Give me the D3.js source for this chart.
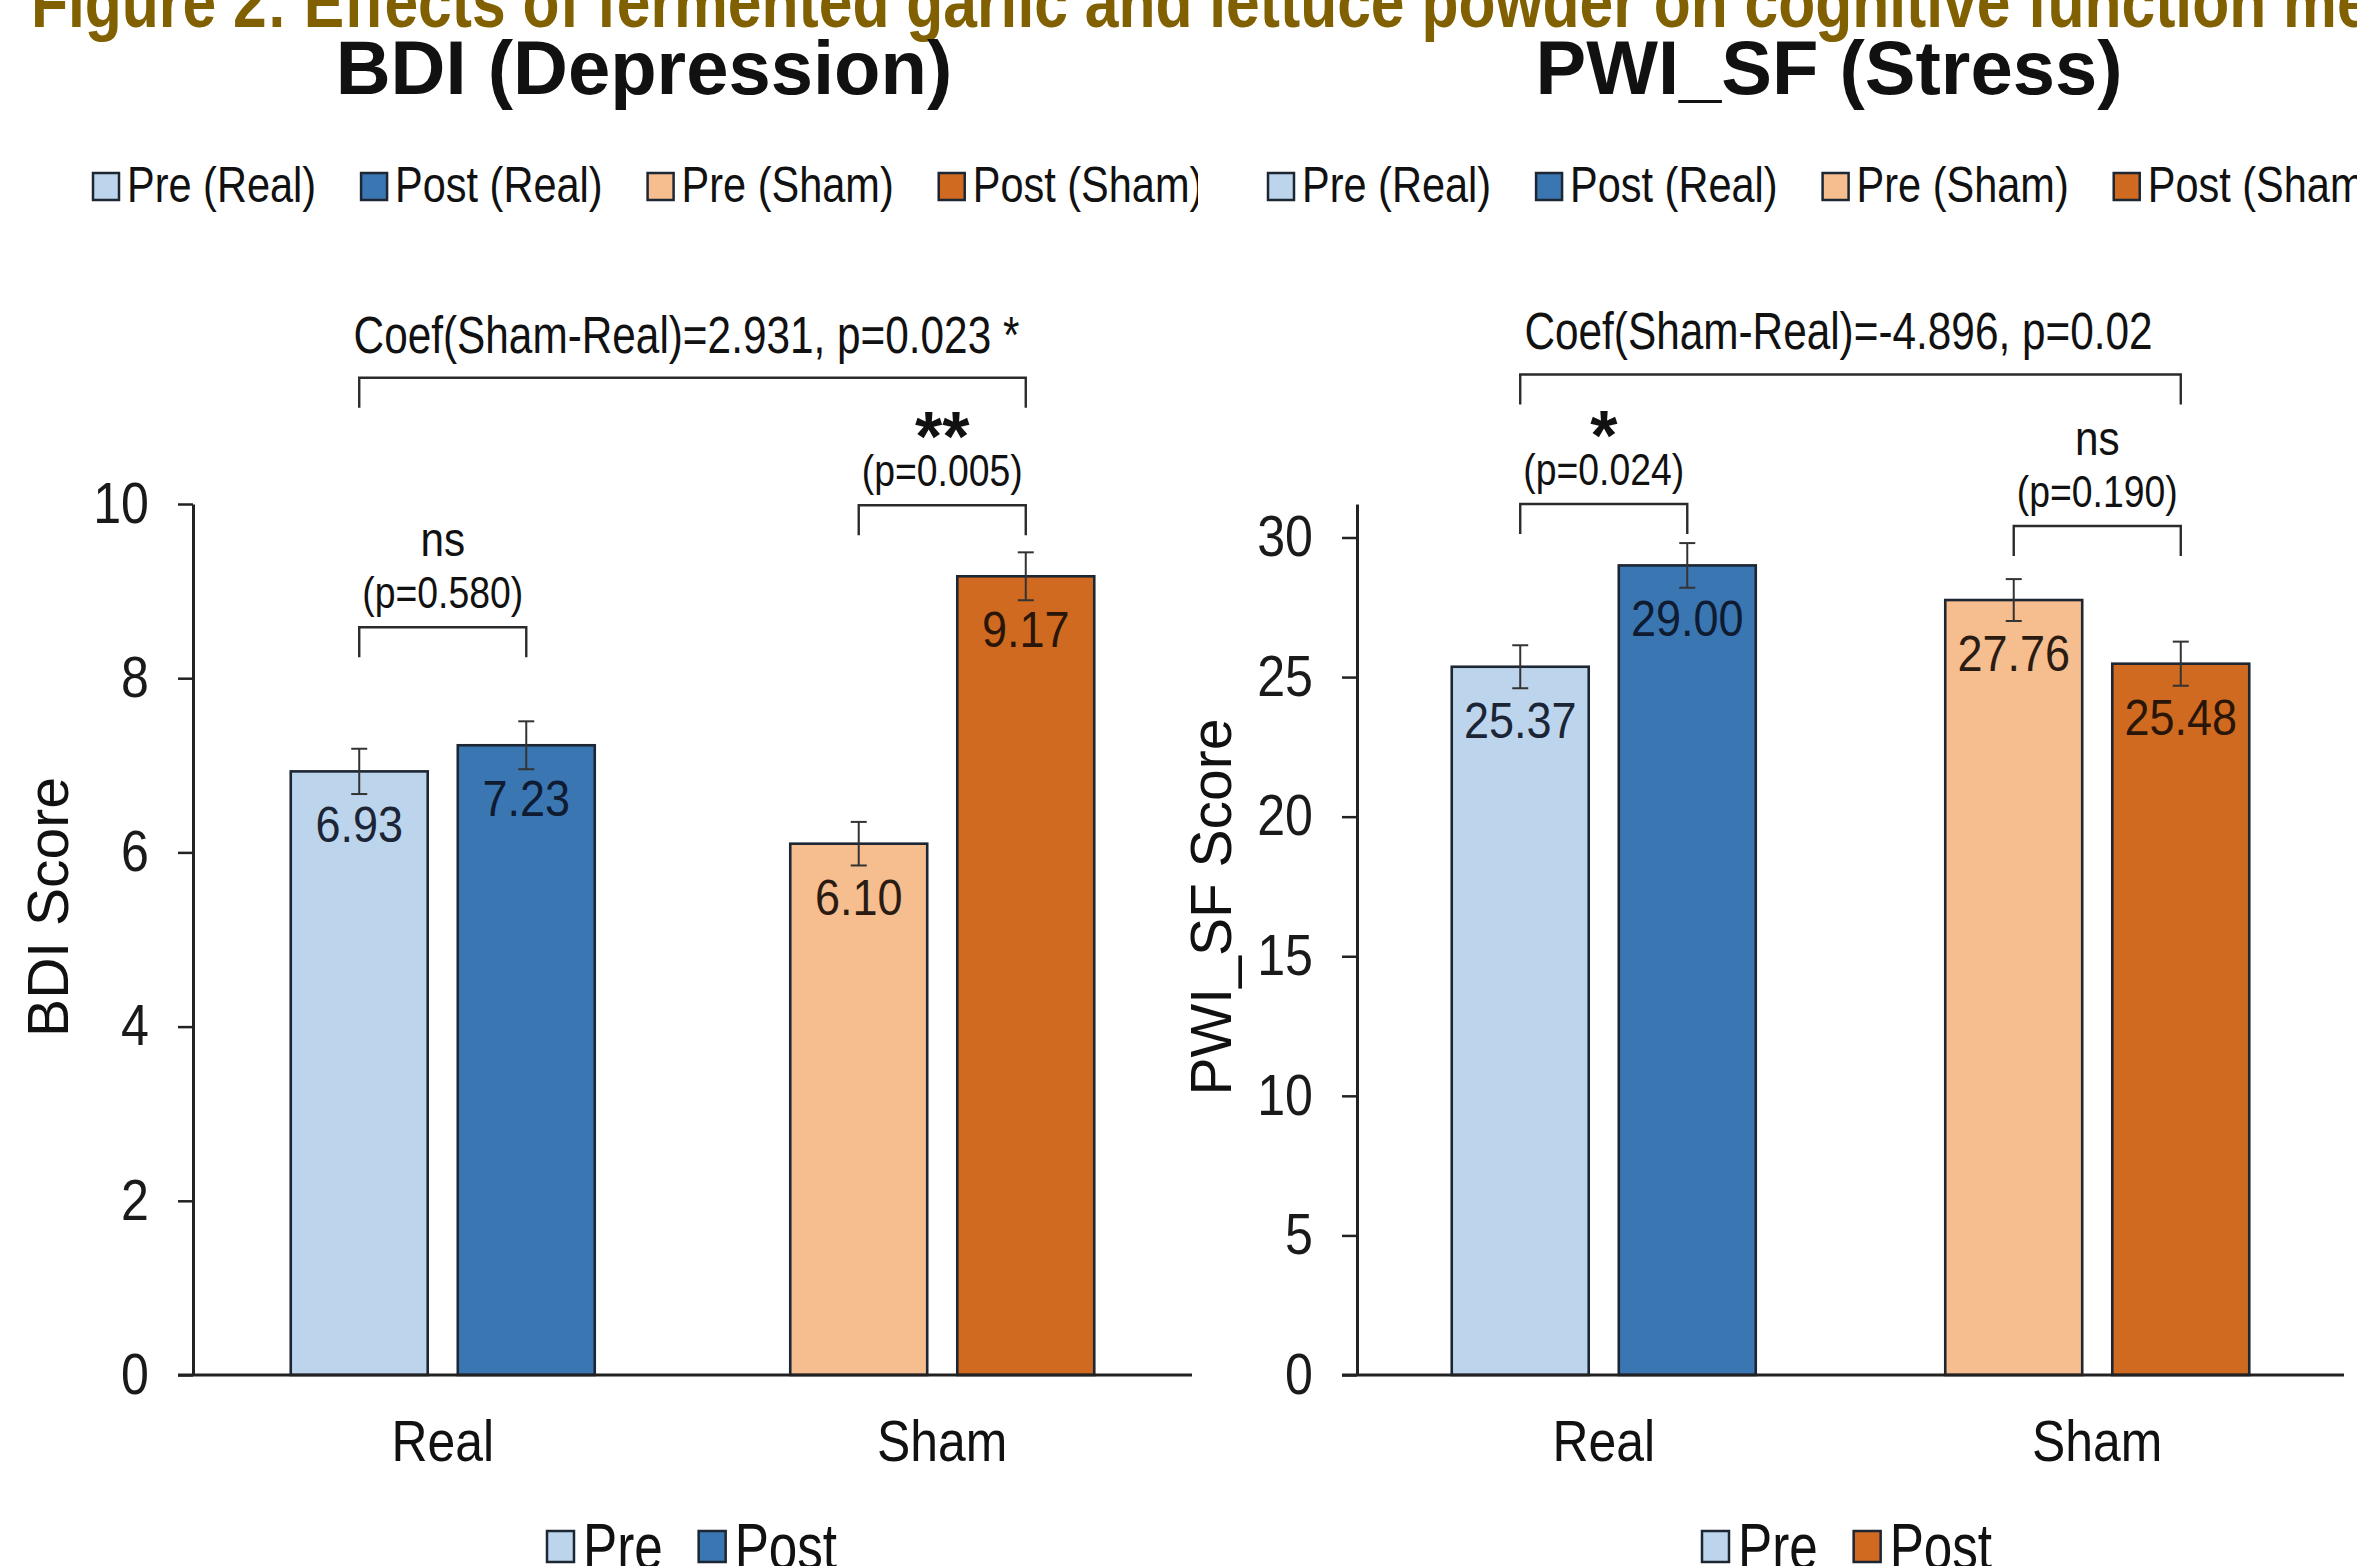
<!DOCTYPE html>
<html>
<head>
<meta charset="utf-8">
<script src="https://cdn.jsdelivr.net/npm/d3@7"></script>
<style>
  body { margin: 0; background: #fff; }
  svg { display: block; }
</style>
</head>
<body>
<svg id="chart" width="2357" height="1566"></svg>
<script>
// values
const groups = ["Real", "Sham"];
const phases = ["Pre", "Post"];
const bdiMeans = [[6.93, 7.23], [6.10, 9.17]];
const bdiErrors = [[0.26, 0.275], [0.25, 0.275]];
const pwiMeans = [[25.37, 29.00], [27.76, 25.48]];
const pwiErrors = [[0.77, 0.80], [0.75, 0.79]];
const bdiTicks = [0, 2, 4, 6, 8, 10];
const pwiTicks = [0, 5, 10, 15, 20, 25, 30];
const legendLabels = ["Pre (Real)", "Post (Real)", "Pre (Sham)", "Post (Sham)"];
const bdiPairTests = [{ mark: "ns", p: "(p=0.580)" }, { mark: "**", p: "(p=0.005)" }];
const pwiPairTests = [{ mark: "*", p: "(p=0.024)" }, { mark: "ns", p: "(p=0.190)" }];
const bdiGroupTest = "Coef(Sham-Real)=2.931, p=0.023 *";
const pwiGroupTest = "Coef(Sham-Real)=-4.896, p=0.02";
const figureTitle = "Figure 2: Effects of fermented garlic and lettuce powder on cognitive function measures";

const SANS = "'Liberation Sans', Arial, sans-serif";
const fills = [["#bdd5ec", "#3a76b2"], ["#f6bd8f", "#cf6a20"]];
const valueColors = [["#1b2536", "#0f1b30"], ["#2a1c12", "#2a1608"]];
const STROKE = "#1d2633";
const PLOT_TOP = 504, PLOT_BOTTOM = 1375;

const svg = d3.select("#chart");

svg.append("defs").append("clipPath")
    .attr("id", "clipLeft")
  .append("rect")
    .attr("x", 0).attr("y", 0)
    .attr("width", 1198).attr("height", 1566);

// the figure uses a condensed face, so squeeze Liberation Sans horizontally
function label(g, x, y, str, size, squeeze, opts) {
  opts = opts || {};
  const t = g.append("text")
    .attr("transform", `translate(${x},${y}) scale(${squeeze},1)`)
    .attr("text-anchor", opts.anchor || "start")
    .attr("font-family", SANS)
    .attr("font-weight", opts.weight || "normal")
    .attr("font-size", size + "px")
    .attr("fill", opts.fill || "#111")
    .text(str);
  return t;
}

label(svg, 31, 27, figureTitle, 73, 0.83, { weight: "bold", fill: "#806000" });

const panels = [
  {
    title: "BDI (Depression)", titleX: 644, yLabel: "BDI Score", yLabelX: 68,
    axisX: 193, xEnd: 1192, yMax: 10, ticks: bdiTicks,
    means: bdiMeans, errors: bdiErrors, pairTests: bdiPairTests, groupTest: bdiGroupTest,
    pairLevels: [8.585, 9.985], groupLevel: 11.45, coefShift: -6,
    legendX: 93, bottomX: 547, bottomColors: [fills[0][0], fills[0][1]], clip: true
  },
  {
    title: "PWI_SF (Stress)", titleX: 1829, yLabel: "PWI_SF Score", yLabelX: 1231,
    axisX: 1357, xEnd: 2344, yMax: 31.2, ticks: pwiTicks,
    means: pwiMeans, errors: pwiErrors, pairTests: pwiPairTests, groupTest: pwiGroupTest,
    pairLevels: [31.2, 30.41], groupLevel: 35.84, coefShift: -12,
    legendX: 1268, bottomX: 1702, bottomColors: [fills[0][0], fills[1][1]], clip: false
  }
];

function bracket(g, xa, xb, yTop, leg) {
  g.append("path")
    .attr("d", `M${xa},${yTop + leg}V${yTop}H${xb}V${yTop + leg}`)
    .attr("fill", "none")
    .attr("stroke", "#2b2b2b")
    .attr("stroke-width", 2.4);
}

function drawPanel(cfg) {
  const g = svg.append("g");
  if (cfg.clip) g.attr("clip-path", "url(#clipLeft)");

  const y = d3.scaleLinear().domain([0, cfg.yMax]).range([PLOT_BOTTOM, PLOT_TOP]);
  const x0 = d3.scaleBand().domain(groups).range([cfg.axisX, cfg.xEnd]);
  const mid = x0.bandwidth() / 2;
  const x1 = d3.scaleBand().domain(phases).range([mid - 152, mid + 152]).paddingInner(0.18);

  const rows = [];
  groups.forEach((grp, gi) => {
    phases.forEach((ph, pi) => {
      rows.push({ grp, ph, gi, pi, mean: cfg.means[gi][pi], err: cfg.errors[gi][pi] });
    });
  });
  const cx = d => x0(d.grp) + x1(d.ph) + x1.bandwidth() / 2;

  // panel title
  label(g, cfg.titleX, 94, cfg.title, 76, 1, { anchor: "middle", weight: "bold" });

  // top legend
  let lx = cfg.legendX;
  legendLabels.forEach((lab, i) => {
    g.append("rect")
      .attr("x", lx).attr("y", 173)
      .attr("width", 26).attr("height", 27)
      .attr("fill", fills[Math.floor(i / 2)][i % 2])
      .attr("stroke", STROKE).attr("stroke-width", 2.5);
    const t = label(g, lx + 34, 202, lab, 50, 0.83);
    lx += 34 + t.node().getComputedTextLength() * 0.83 + 45;
  });

  // bars
  g.selectAll("rect.bar").data(rows).enter().append("rect")
    .attr("class", "bar")
    .attr("x", d => x0(d.grp) + x1(d.ph))
    .attr("y", d => y(d.mean))
    .attr("width", x1.bandwidth())
    .attr("height", d => y(0) - y(d.mean))
    .attr("fill", d => fills[d.gi][d.pi])
    .attr("stroke", STROKE)
    .attr("stroke-width", 2.6);

  // error bars
  const eb = g.selectAll("g.err").data(rows).enter().append("g")
    .attr("class", "err")
    .attr("stroke", "#333").attr("stroke-width", 2);
  eb.append("line")
    .attr("x1", cx).attr("x2", cx)
    .attr("y1", d => y(d.mean - d.err)).attr("y2", d => y(d.mean + d.err));
  eb.append("line")
    .attr("x1", d => cx(d) - 8).attr("x2", d => cx(d) + 8)
    .attr("y1", d => y(d.mean + d.err)).attr("y2", d => y(d.mean + d.err));
  eb.append("line")
    .attr("x1", d => cx(d) - 8).attr("x2", d => cx(d) + 8)
    .attr("y1", d => y(d.mean - d.err)).attr("y2", d => y(d.mean - d.err));

  // value labels
  rows.forEach(d => {
    label(g, cx(d), y(d.mean) + 71, d.mean.toFixed(2), 50, 0.9,
      { anchor: "middle", fill: valueColors[d.gi][d.pi] });
  });

  // axes
  const yAxis = g.append("g")
    .attr("transform", `translate(${cfg.axisX},0)`)
    .call(d3.axisLeft(y).tickValues(cfg.ticks).tickSize(15).tickSizeOuter(0).tickPadding(29));
  yAxis.select(".domain").attr("stroke", "#222").attr("stroke-width", 3);
  yAxis.selectAll(".tick line").attr("stroke", "#222").attr("stroke-width", 2.5);
  yAxis.selectAll(".tick text")
    .attr("transform", "scale(0.88,1)")
    .attr("x", -44 / 0.88)
    .attr("font-family", SANS).attr("font-size", "57px").attr("fill", "#1a1a1a");

  g.append("line")
    .attr("x1", cfg.axisX - 15).attr("x2", cfg.xEnd)
    .attr("y1", PLOT_BOTTOM).attr("y2", PLOT_BOTTOM)
    .attr("stroke", "#222").attr("stroke-width", 3);

  const xAxis = g.append("g")
    .attr("transform", `translate(0,${PLOT_BOTTOM})`)
    .call(d3.axisBottom(x0).tickSize(0).tickPadding(45));
  xAxis.select(".domain").remove();
  xAxis.selectAll(".tick text")
    .attr("transform", "scale(0.86,1)")
    .attr("font-family", SANS).attr("font-size", "58px").attr("fill", "#111");

  g.append("text")
    .attr("transform", `translate(${cfg.yLabelX},907) rotate(-90)`)
    .attr("text-anchor", "middle")
    .attr("font-family", SANS).attr("font-size", "57px")
    .attr("fill", "#111")
    .text(cfg.yLabel);

  // pairwise comparison brackets
  cfg.pairTests.forEach((t, gi) => {
    const xa = x0(groups[gi]) + x1("Pre") + x1.bandwidth() / 2;
    const xb = x0(groups[gi]) + x1("Post") + x1.bandwidth() / 2;
    const by = y(cfg.pairLevels[gi]);
    const xm = (xa + xb) / 2;
    bracket(g, xa, xb, by, 30);
    label(g, xm, by - 19, t.p, 45, 0.83, { anchor: "middle" });
    if (t.mark === "ns") {
      label(g, xm, by - 71, t.mark, 48, 0.88, { anchor: "middle" });
    } else {
      label(g, xm, by - 44, t.mark, 70, 1, { anchor: "middle", weight: "bold" });
    }
  });

  // group comparison bracket
  const xa = cx(rows[0]);
  const xb = cx(rows[3]);
  const gy = y(cfg.groupLevel);
  bracket(g, xa, xb, gy, 30);
  label(g, (xa + xb) / 2 + cfg.coefShift, gy - 25, cfg.groupTest, 51, 0.83, { anchor: "middle" });

  // bottom legend (Pre / Post)
  let bx = cfg.bottomX;
  phases.forEach((ph, i) => {
    g.append("rect")
      .attr("x", bx).attr("y", 1531)
      .attr("width", 27).attr("height", 31)
      .attr("fill", cfg.bottomColors[i])
      .attr("stroke", STROKE).attr("stroke-width", 2.5);
    const t = label(g, bx + 36, 1569, ph, 64, 0.8);
    bx += 36 + t.node().getComputedTextLength() * 0.8 + 36;
  });
}

panels.forEach(drawPanel);
</script>
</body>
</html>
